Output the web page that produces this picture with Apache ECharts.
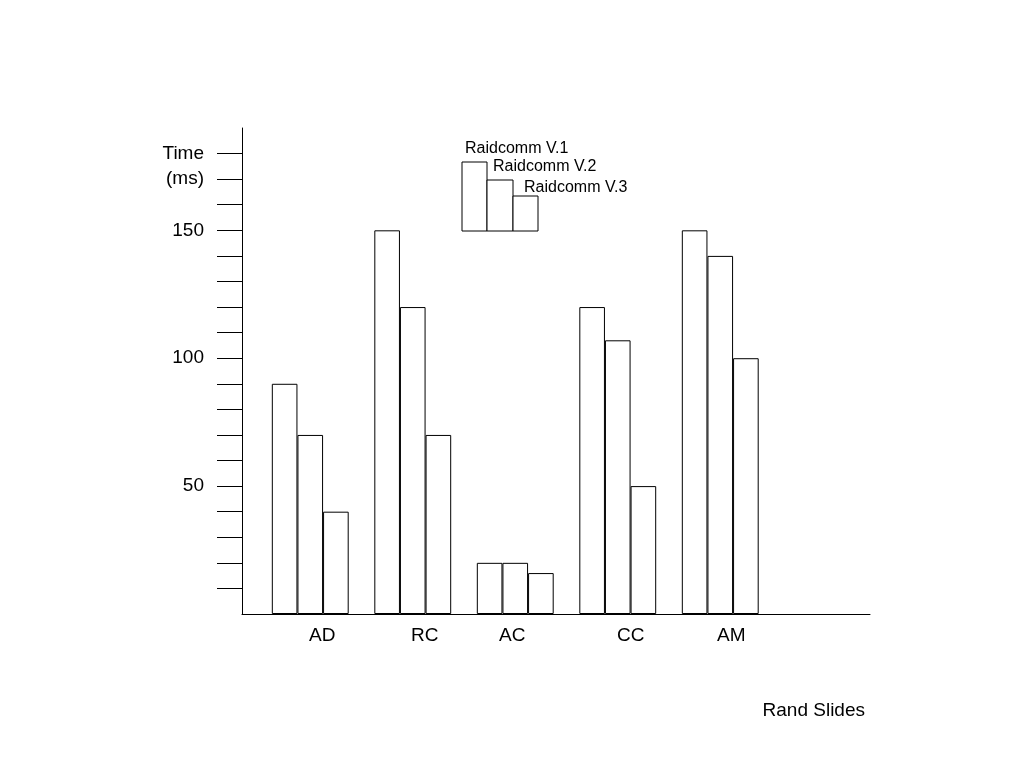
<!DOCTYPE html>
<html><head><meta charset="utf-8">
<script src="https://cdn.jsdelivr.net/npm/echarts@6/dist/echarts.min.js"></script>
<style>html,body{margin:0;padding:0;background:#fff}#c{width:1024px;height:768px}</style>
</head><body><div id="c"></div>
<script>
const categories = ['AD', 'RC', 'AC', 'CC', 'AM', ''];
const seriesNames = ['Raidcomm V.1', 'Raidcomm V.2', 'Raidcomm V.3'];
const v1 = [90, 150, 20, 120, 150];
const v2 = [70, 120, 20, 107, 140];
const v3 = [40, 70, 16, 50, 100];
const tickValues = [10,20,30,40,50,60,70,80,90,100,110,120,130,140,150,160,170,180];
const labelValues = [50, 100, 150, 170, 180];
const axisNameLines = {180: 'Time', 170: '(ms)'};
const xAxisName = 'Rand Slides';

const font = '"Liberation Sans", Arial, Helvetica, sans-serif';
const labelShift = {AD: 24, RC: 24, AC: -6, CC: 26, AM: 22};

const chart = echarts.init(document.getElementById('c'));
const barStyle = {color: '#fff', borderColor: '#000', borderWidth: 1};
const mk = (name, data) => ({
  type: 'bar', name, data, xAxisIndex: 0, yAxisIndex: 0,
  barGap: '0%', barCategoryGap: '25%', itemStyle: barStyle, silent: true
});
chart.setOption({
  animation: false,
  backgroundColor: '#fff',
  textStyle: {fontFamily: font},
  title: {text: xAxisName, right: 159, top: 701, padding: 0,
    textStyle: {fontFamily: font, fontSize: 19, fontWeight: 'normal', color: '#000'}},
  grid: [
    {left: 259, width: 615, top: 128, height: 486},
    {left: 242, width: 628, top: 128, height: 486}
  ],
  xAxis: [
    {type: 'category', gridIndex: 0,
      data: categories.map(c => ({value: c, textStyle: {padding: [0, 0, 0, labelShift[c] || 0]}})),
      axisLine: {show: false}, axisTick: {show: false},
      axisLabel: {fontSize: 19, color: '#000', margin: 12, fontFamily: font}},
    {type: 'value', gridIndex: 1, min: 0, max: 1,
      axisLine: {show: true, lineStyle: {color: '#000', width: 1}},
      axisTick: {show: false}, axisLabel: {show: false}, splitLine: {show: false}}
  ],
  yAxis: [
    {type: 'value', gridIndex: 0, min: 0, max: 190, offset: 17,
      axisLine: {show: true, lineStyle: {color: '#000', width: 1}},
      axisTick: {show: true, inside: false, length: 25, customValues: tickValues,
        lineStyle: {color: '#000', width: 1}},
      axisLabel: {customValues: labelValues, margin: 38, fontSize: 19, color: '#000', fontFamily: font,
        formatter: v => axisNameLines[v] || String(v)},
      splitLine: {show: false}},
    {type: 'value', gridIndex: 1, show: false, min: 0, max: 1}
  ],
  series: [mk(seriesNames[0], v1), mk(seriesNames[1], v2), mk(seriesNames[2], v3)],
  graphic: [
    {type: 'rect', shape: {x: 462, y: 162, width: 25, height: 69}, style: {fill: '#fff', stroke: '#000', lineWidth: 1}},
    {type: 'rect', shape: {x: 487, y: 180, width: 26, height: 51}, style: {fill: '#fff', stroke: '#000', lineWidth: 1}},
    {type: 'rect', shape: {x: 513, y: 196, width: 25, height: 35}, style: {fill: '#fff', stroke: '#000', lineWidth: 1}},
    {type: 'text', x: 465, y: 149, style: {text: seriesNames[0], fill: '#000', font: '16px ' + font, textVerticalAlign: 'middle'}},
    {type: 'text', x: 493, y: 167, style: {text: seriesNames[1], fill: '#000', font: '16px ' + font, textVerticalAlign: 'middle'}},
    {type: 'text', x: 524, y: 188, style: {text: seriesNames[2], fill: '#000', font: '16px ' + font, textVerticalAlign: 'middle'}}
  ]
});
</script></body></html>
